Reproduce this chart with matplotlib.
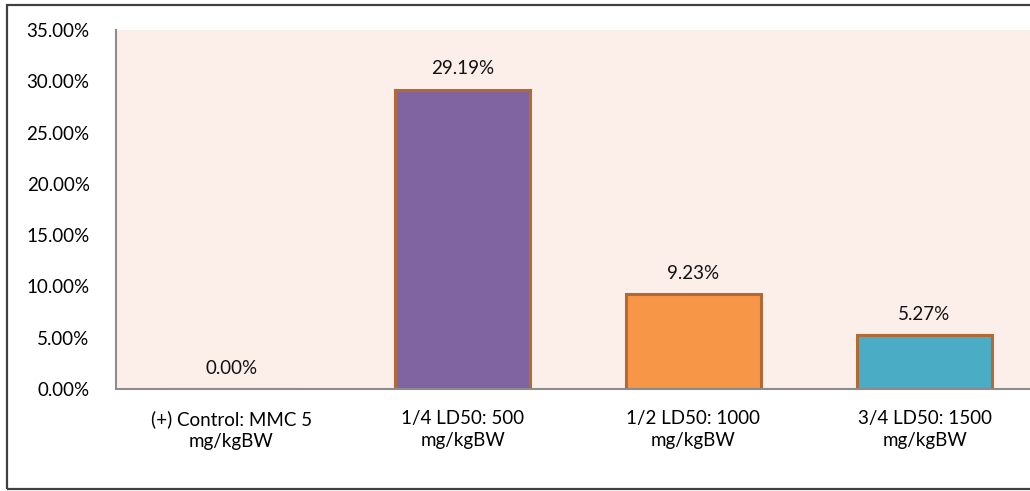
import matplotlib.pyplot as plt
from matplotlib.patches import Rectangle

categories = ["(+) Control: MMC 5\nmg/kgBW", "1/4 LD50: 500\nmg/kgBW",
              "1/2 LD50: 1000\nmg/kgBW", "3/4 LD50: 1500\nmg/kgBW"]
values = [0.00, 29.19, 9.23, 5.27]
colors = ["#8064A2", "#8064A2", "#F79646", "#4BACC6"]
yticks = [0, 5, 10, 15, 20, 25, 30, 35]

plt.rcParams['font.family'] = ['Lato', 'DejaVu Sans']
fs = 13.5

W, H = 1030, 491
fig = plt.figure(figsize=(W / 100, H / 100), dpi=100)

# outer frame
fig.patches.append(Rectangle((7 / W, 2 / H), 1.2, 484 / H, transform=fig.transFigure,
                             fill=False, edgecolor="#404040", linewidth=1.6))

ax = fig.add_axes([116 / W, (H - 389) / H, 924 / W, 359 / H])
ax.set_facecolor("#FCEEE8")
x = range(len(values))
ax.bar(x, values, width=0.585, color=colors, edgecolor="#B06A35", linewidth=2.2)

for xi, v in zip(x, values):
    ax.annotate(f"{v:.2f}%", (xi, v), xytext=(0, 15), textcoords="offset points",
                ha="center", va="center", fontsize=fs, color="#111111")

ax.set_xlim(-0.5, 3.5)
ax.set_ylim(0, 35)
ax.set_yticks(yticks)
ax.set_yticklabels([f"{t:.2f}%" for t in yticks], fontsize=fs)
ax.set_xticks(list(x))
ax.set_xticklabels(categories, fontsize=fs, linespacing=1.4)
ax.tick_params(axis="y", length=0, pad=19)
ax.tick_params(axis="x", length=0, pad=15)
for s in ["top", "right"]:
    ax.spines[s].set_visible(False)
for s in ["left", "bottom"]:
    ax.spines[s].set_color("#8C8C8C")
    ax.spines[s].set_linewidth(1.5)

fig.savefig("out.png", dpi=100)
